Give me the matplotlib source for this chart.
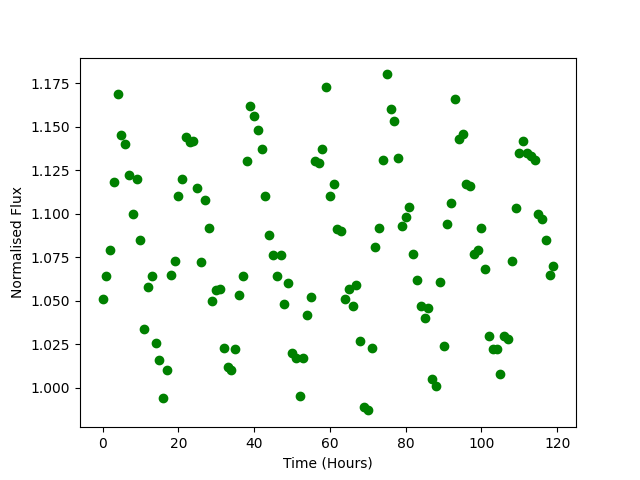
import numpy as np
import matplotlib
matplotlib.use('Agg')
import matplotlib.pyplot as plt

# hourly flux readings
time_hours = np.arange(120)
flux = [1.051, 1.064, 1.079, 1.118, 1.169, 1.145, 1.140, 1.122, 1.100, 1.120,
        1.085, 1.034, 1.058, 1.064, 1.026, 1.016, 0.994, 1.010, 1.065, 1.073,
        1.110, 1.120, 1.144, 1.141, 1.142, 1.115, 1.072, 1.108, 1.092, 1.050,
        1.056, 1.057, 1.023, 1.012, 1.010, 1.022, 1.053, 1.064, 1.130, 1.162,
        1.156, 1.148, 1.137, 1.110, 1.088, 1.076, 1.064, 1.076, 1.048, 1.060,
        1.020, 1.017, 0.995, 1.017, 1.042, 1.052, 1.130, 1.129, 1.137, 1.173,
        1.110, 1.117, 1.091, 1.090, 1.051, 1.057, 1.047, 1.059, 1.027, 0.989,
        0.987, 1.023, 1.081, 1.092, 1.131, 1.180, 1.160, 1.153, 1.132, 1.093,
        1.098, 1.104, 1.077, 1.062, 1.047, 1.040, 1.046, 1.005, 1.001, 1.061,
        1.024, 1.094, 1.106, 1.166, 1.143, 1.146, 1.117, 1.116, 1.077, 1.079,
        1.092, 1.068, 1.030, 1.022, 1.022, 1.008, 1.030, 1.028, 1.073, 1.103,
        1.135, 1.142, 1.135, 1.133, 1.131, 1.100, 1.097, 1.085, 1.065, 1.070]

plt.figure(figsize=(6.4, 4.8), dpi=100)
plt.plot(time_hours, flux, 'o', color='green')
plt.xlabel('Time (Hours)')
plt.ylabel('Normalised Flux')
plt.savefig('out.png')
